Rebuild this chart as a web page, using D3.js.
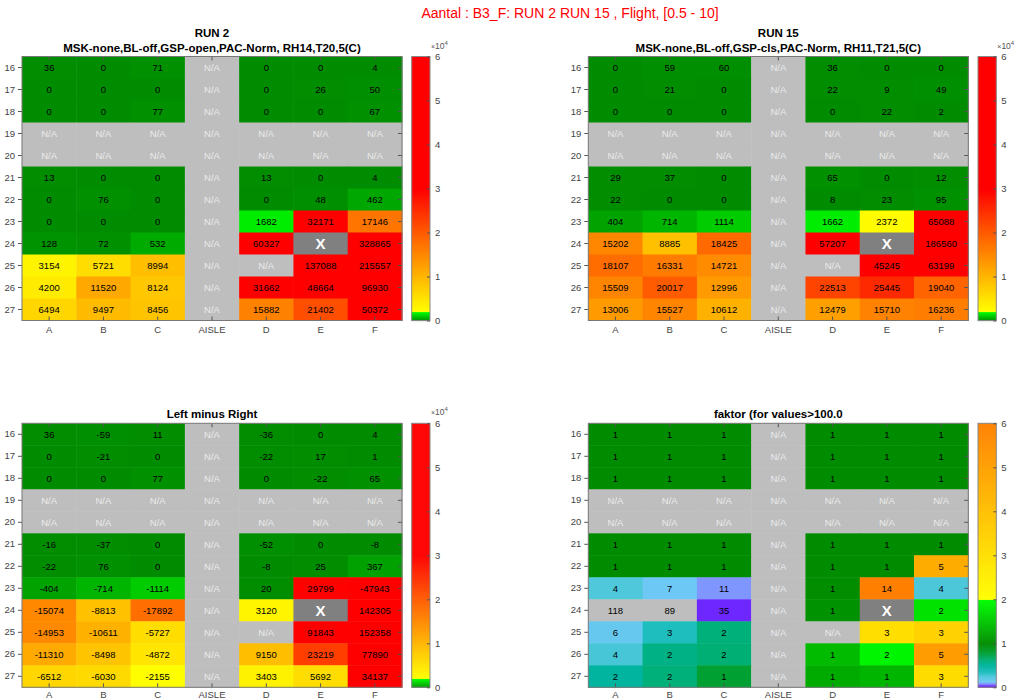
<!DOCTYPE html>
<html>
<head>
<meta charset="utf-8">
<script src="https://cdn.jsdelivr.net/npm/d3@7"></script>
<style>
  html, body { margin: 0; padding: 0; background: #fff; }
  svg { display: block; font-family: "Liberation Sans", Arial, Helvetica, sans-serif; }
</style>
</head>
<body>
<svg id="fig" width="1017" height="700"></svg>
<script>
// Seat rows and seat columns (the aisle is its own column)
const rows = [16, 17, 18, 19, 20, 21, 22, 23, 24, 25, 26, 27];
const cols = ["A", "B", "C", "AISLE", "D", "E", "F"];

// null = not available (N/A), "X" = excluded seat
const NA = null;
const run2 = [
  [36, 0, 71, NA, 0, 0, 4],
  [0, 0, 0, NA, 0, 26, 50],
  [0, 0, 77, NA, 0, 0, 67],
  [NA, NA, NA, NA, NA, NA, NA],
  [NA, NA, NA, NA, NA, NA, NA],
  [13, 0, 0, NA, 13, 0, 4],
  [0, 76, 0, NA, 0, 48, 462],
  [0, 0, 0, NA, 1682, 32171, 17146],
  [128, 72, 532, NA, 60327, "X", 328865],
  [3154, 5721, 8994, NA, NA, 137088, 215557],
  [4200, 11520, 8124, NA, 31662, 48664, 96930],
  [6494, 9497, 8456, NA, 15882, 21402, 50372]
];

const run15 = [
  [0, 59, 60, NA, 36, 0, 0],
  [0, 21, 0, NA, 22, 9, 49],
  [0, 0, 0, NA, 0, 22, 2],
  [NA, NA, NA, NA, NA, NA, NA],
  [NA, NA, NA, NA, NA, NA, NA],
  [29, 37, 0, NA, 65, 0, 12],
  [22, 0, 0, NA, 8, 23, 95],
  [404, 714, 1114, NA, 1662, 2372, 65088],
  [15202, 8885, 18425, NA, 57207, "X", 186560],
  [18107, 16331, 14721, NA, NA, 45245, 63199],
  [15509, 20017, 12996, NA, 22513, 25445, 19040],
  [13006, 15527, 10612, NA, 12479, 15710, 16236]
];

const leftMinusRight = [
  [36, -59, 11, NA, -36, 0, 4],
  [0, -21, 0, NA, -22, 17, 1],
  [0, 0, 77, NA, 0, -22, 65],
  [NA, NA, NA, NA, NA, NA, NA],
  [NA, NA, NA, NA, NA, NA, NA],
  [-16, -37, 0, NA, -52, 0, -8],
  [-22, 76, 0, NA, -8, 25, 367],
  [-404, -714, -1114, NA, 20, 29799, -47943],
  [-15074, -8813, -17892, NA, 3120, "X", 142305],
  [-14953, -10611, -5727, NA, NA, 91843, 152358],
  [-11310, -8498, -4872, NA, 9150, 23219, 77890],
  [-6512, -6030, -2155, NA, 3403, 5692, 34137]
];

// Factor shown in each cell (larger run over smaller run, counts floored at 100)
const faktorLabel = [
  [1, 1, 1, NA, 1, 1, 1],
  [1, 1, 1, NA, 1, 1, 1],
  [1, 1, 1, NA, 1, 1, 1],
  [NA, NA, NA, NA, NA, NA, NA],
  [NA, NA, NA, NA, NA, NA, NA],
  [1, 1, 1, NA, 1, 1, 1],
  [1, 1, 1, NA, 1, 1, 5],
  [4, 7, 11, NA, 1, 14, 4],
  [118, 89, 35, NA, 1, "X", 2],
  [6, 3, 2, NA, NA, 3, 3],
  [4, 2, 2, NA, 1, 2, 5],
  [2, 2, 1, NA, 1, 1, 3]
];

// Ratio RUN 2 / RUN 15 that sets each factor cell's colour
const faktorRatio = [
  [1, 1, 1, NA, 1, 1, 1],
  [1, 1, 1, NA, 1, 1, 1],
  [1, 1, 1, NA, 1, 1, 1],
  [NA, NA, NA, NA, NA, NA, NA],
  [NA, NA, NA, NA, NA, NA, NA],
  [1, 1, 1, NA, 1, 1, 1],
  [1, 1, 1, NA, 1, 1, 4.62],
  [0.25, 0.14, 0.09, NA, 1.01, 13.56, 0.26],
  [0.008, 0.011, 0.029, NA, 1.05, "X", 1.76],
  [0.17, 0.35, 0.61, NA, NA, 3.03, 3.41],
  [0.27, 0.58, 0.63, NA, 1.41, 1.91, 5.09],
  [0.50, 0.61, 0.80, NA, 1.27, 1.36, 3.10]
];

// Colour-bar tick values
const countTicks = [0, 10000, 20000, 30000, 40000, 50000, 60000];
const faktorTicks = [0, 1, 2, 3, 4, 5, 6];

// ---- colour maps ----
const countColor = d3.scaleLinear()
  .domain([0, 2000, 2000.001, 30000, 60000])
  .range(["rgb(0,140,0)", "rgb(0,255,0)", "rgb(255,255,0)", "rgb(255,0,0)", "rgb(255,0,0)"])
  .clamp(true);

const faktorColor = d3.scaleLinear()
  .domain([0, 0.04, 0.09, 0.14, 0.25, 0.35, 0.5, 0.62, 0.8, 1, 2, 2.0001, 6])
  .range(["rgb(110,40,255)", "rgb(110,40,255)", "rgb(128,150,255)", "rgb(110,200,245)",
          "rgb(80,200,220)", "rgb(30,190,190)", "rgb(0,180,160)", "rgb(0,176,120)",
          "rgb(0,160,50)", "rgb(0,140,0)", "rgb(0,255,0)", "rgb(255,255,0)", "rgb(255,128,0)"])
  .clamp(true);

const NA_FILL = "rgb(190,190,190)";
const X_FILL = "rgb(128,128,128)";

const svg = d3.select("#fig");
svg.append("rect").attr("width", 1017).attr("height", 700).attr("fill", "#fff");

// Figure title
svg.append("text")
  .attr("x", 570).attr("y", 18)
  .attr("text-anchor", "middle")
  .attr("font-size", 14)
  .attr("fill", "rgb(255,0,0)")
  .text("Aantal : B3_F: RUN 2 RUN 15 , Flight, [0.5 - 10]");

const PW = 380, PH = 264;

const panels = [
  {
    left: 22, top: 56.5, xPad: 6,
    titles: ["RUN 2", "MSK-none,BL-off,GSP-open,PAC-Norm, RH14,T20,5(C)"],
    labels: run2, colorVals: run2,
    fill: v => countColor(Math.abs(v)),
    cmap: countColor, cbMax: 60000, ticks: countTicks, tickFmt: v => v / 10000, exponent: true
  },
  {
    left: 588.3, top: 56.5, xPad: 6,
    titles: ["RUN 15", "MSK-none,BL-off,GSP-cls,PAC-Norm, RH11,T21,5(C)"],
    labels: run15, colorVals: run15,
    fill: v => countColor(Math.abs(v)),
    cmap: countColor, cbMax: 60000, ticks: countTicks, tickFmt: v => v / 10000, exponent: true
  },
  {
    left: 22, top: 423.3, xPad: 3.5,
    titles: ["Left minus Right"],
    labels: leftMinusRight, colorVals: leftMinusRight,
    fill: v => countColor(Math.abs(v)),
    cmap: countColor, cbMax: 60000, ticks: countTicks, tickFmt: v => v / 10000, exponent: true
  },
  {
    left: 588.3, top: 423.3, xPad: 3.5,
    titles: ["faktor (for values>100.0"],
    labels: faktorLabel, colorVals: faktorRatio,
    // ratios beyond 1:50 fall below the colour bar and are greyed out
    fill: v => (v < 0.02 ? NA_FILL : faktorColor(v)),
    cmap: faktorColor, cbMax: 6, ticks: faktorTicks, tickFmt: v => v, exponent: false
  }
];

panels.forEach(p => {
  const g = svg.append("g");
  const x = d3.scaleBand().domain(cols).range([p.left, p.left + PW]);
  const y = d3.scaleBand().domain(rows).range([p.top, p.top + PH]);

  // cells
  const cells = [];
  rows.forEach((r, i) => cols.forEach((c, j) => {
    cells.push({ r, c, label: p.labels[i][j], cv: p.colorVals[i][j] });
  }));

  const cellFill = d => {
    if (d.label === null) return NA_FILL;
    if (d.label === "X") return X_FILL;
    return p.fill(d.cv);
  };

  g.selectAll("rect.cell").data(cells).join("rect")
    .attr("class", "cell")
    .attr("x", d => x(d.c)).attr("y", d => y(d.r))
    .attr("width", x.bandwidth() + 0.5).attr("height", y.bandwidth() + 0.5)
    .attr("fill", cellFill);

  g.selectAll("text.cell").data(cells).join("text")
    .attr("class", "cell")
    .attr("x", d => x(d.c) + x.bandwidth() / 2)
    .attr("y", d => y(d.r) + y.bandwidth() / 2)
    .attr("dy", "0.35em")
    .attr("text-anchor", "middle")
    .attr("font-size", d => d.label === "X" ? 15 : 9.5)
    .attr("font-weight", d => d.label === "X" ? "bold" : "normal")
    .attr("fill", d => d.label === null ? "rgb(235,235,235)" : (d.label === "X" ? "#fff" : "#000"))
    .text(d => d.label === null ? "N/A" : d.label);

  // axes: ticks on all four sides
  const styleAxis = sel => {
    sel.select(".domain").remove();
    sel.selectAll(".tick line").attr("stroke", "#555");
    sel.selectAll(".tick text").attr("fill", "#444").attr("font-size", 9.5)
      .attr("font-family", "Liberation Sans, Arial, sans-serif");
  };
  g.append("g").attr("transform", `translate(${p.left},0)`)
    .call(d3.axisLeft(y).tickSize(4).tickPadding(3)).call(styleAxis);
  g.append("g").attr("transform", `translate(0,${p.top + PH})`)
    .call(d3.axisBottom(x).tickSize(-4).tickPadding(p.xPad)).call(styleAxis);
  g.append("g").attr("transform", `translate(0,${p.top})`)
    .call(d3.axisTop(x).tickSize(-4).tickFormat("")).call(styleAxis);
  g.append("g").attr("transform", `translate(${p.left + PW},0)`)
    .call(d3.axisRight(y).tickSize(-4).tickFormat("")).call(styleAxis);

  g.append("rect")
    .attr("x", p.left).attr("y", p.top).attr("width", PW).attr("height", PH)
    .attr("fill", "none").attr("stroke", "#777").attr("stroke-width", 1);

  // titles
  const tY = p.titles.length === 2 ? [p.top - 20, p.top - 5] : [p.top - 5];
  p.titles.forEach((t, k) => {
    g.append("text")
      .attr("x", p.left + PW / 2).attr("y", tY[k])
      .attr("text-anchor", "middle")
      .attr("font-size", 11.5).attr("font-weight", "bold").attr("fill", "#000")
      .text(t);
  });

  // colour bar
  const cbX = p.left + 389.7, cbW = 18.3;
  const cy = d3.scaleLinear().domain([0, p.cbMax]).range([p.top + PH, p.top]);
  const steps = d3.range(0, PH);
  g.selectAll("rect.cb").data(steps).join("rect")
    .attr("class", "cb")
    .attr("x", cbX).attr("width", cbW)
    .attr("y", s => p.top + PH - s - 1).attr("height", 1.6)
    .attr("fill", s => p.cmap(cy.invert(p.top + PH - s - 0.5)));
  g.append("rect")
    .attr("x", cbX).attr("y", p.top).attr("width", cbW).attr("height", PH)
    .attr("fill", "none").attr("stroke", "#888").attr("stroke-width", 1);

  const cbAxis = g.append("g").attr("transform", `translate(${cbX + cbW},0)`)
    .call(d3.axisRight(cy).tickValues(p.ticks).tickSize(-3).tickPadding(5).tickFormat(p.tickFmt));
  cbAxis.select(".domain").remove();
  cbAxis.selectAll(".tick line").attr("stroke", "#555");
  cbAxis.selectAll(".tick text").attr("fill", "#444").attr("font-size", 9.5)
    .attr("font-family", "Liberation Sans, Arial, sans-serif");

  if (p.exponent) {
    const e = g.append("text")
      .attr("x", cbX + cbW + 1).attr("y", p.top - 8)
      .attr("font-size", 8.5).attr("fill", "#555");
    e.append("tspan").attr("font-size", 7).text("×");
    e.append("tspan").text("10");
    e.append("tspan").attr("font-size", 6).attr("dy", -4).text("4");
  }
});
</script>
</body>
</html>
